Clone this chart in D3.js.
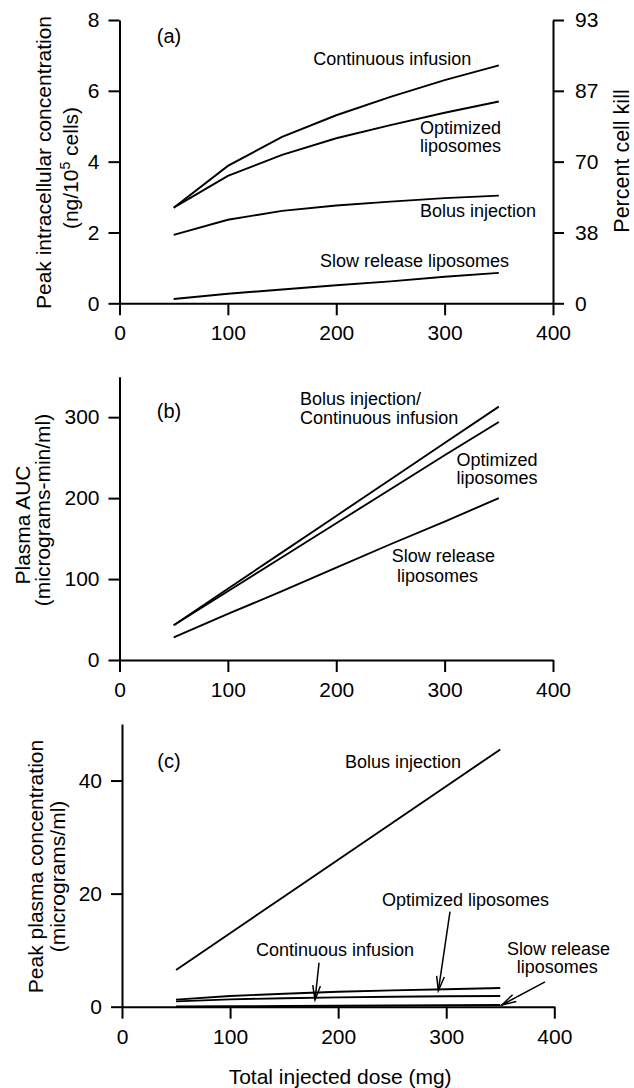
<!DOCTYPE html>
<html><head><meta charset="utf-8">
<script src="https://cdn.jsdelivr.net/npm/d3@7"></script>
<style>
html,body{margin:0;padding:0;background:#fff;}
svg{display:block;font-family:"Liberation Sans",Arial,Helvetica,sans-serif;}
</style></head><body>
<svg id="chart" width="634" height="1088"></svg>
<script>
// ---------- DATA ----------
const doses = [50, 100, 150, 200, 250, 300, 350];
const xTicks = [0, 100, 200, 300, 400];

// Panel (a): peak intracellular concentration
const aContinuous = [2.70, 3.88, 4.70, 5.31, 5.83, 6.30, 6.72];
const aOptimized  = [2.70, 3.60, 4.19, 4.66, 5.03, 5.38, 5.70];
const aBolus      = [1.93, 2.36, 2.61, 2.76, 2.87, 2.97, 3.04];
const aSlow       = [0.12, 0.27, 0.39, 0.51, 0.62, 0.75, 0.86];
const aLeftTicks  = [0, 2, 4, 6, 8];
const aRightTickLabels = ["0", "38", "70", "87", "93"];

// Panel (b): plasma AUC
const bBolusContinuous = [43, 88, 133, 178, 223, 268, 313];
const bOptimized       = [43, 85, 127, 169, 211, 253, 294];
const bSlow            = [28, 57, 85, 114, 143, 171, 200];
const bTicks = [0, 100, 200, 300];

// Panel (c): peak plasma concentration
const cBolus      = [6.5, 13.0, 19.5, 26.0, 32.5, 39.0, 45.5];
const cOptimized  = [1.25, 1.9, 2.3, 2.65, 2.88, 3.08, 3.3];
const cContinuous = [0.95, 1.3, 1.5, 1.65, 1.75, 1.85, 1.9];
const cSlow       = [0.05, 0.09, 0.13, 0.17, 0.21, 0.25, 0.3];
const cTicks = [0, 20, 40];

// ---------- DRAW ----------
const svg = d3.select('#chart');
svg.append('rect').attr('width', 634).attr('height', 1088).attr('fill', '#fff');

const LINE_W = 1.9, AXIS_W = 2;
const TICK_FS = 21, TITLE_FS = 21, NOTE_FS = 18;

function styleAxis(sel) {
  sel.attr('font-family', null).attr('font-size', null);
  sel.selectAll('path.domain').attr('stroke', '#000').attr('stroke-width', AXIS_W);
  sel.selectAll('.tick line').attr('stroke', '#000').attr('stroke-width', AXIS_W);
  sel.selectAll('.tick text').attr('fill', '#000').attr('font-size', TICK_FS);
}

function note(g, x, y, lines, dx, dy, anchor, lh) {
  const t = g.append('text').attr('font-size', NOTE_FS).attr('fill', '#000')
    .attr('text-anchor', anchor || 'start');
  lines.forEach((s, i) => {
    t.append('tspan').attr('x', x(dx[i] !== undefined ? dx[i] : dx[0]))
      .attr('y', y(dy) + i * (lh || 18)).text(s);
  });
  return t;
}

function arrow(g, x, y, tail, tip) {
  const x1 = x(tail[0]), y1 = y(tail[1]), x2 = x(tip[0]), y2 = y(tip[1]);
  g.append('line').attr('x1', x1).attr('y1', y1).attr('x2', x2).attr('y2', y2)
    .attr('stroke', '#000').attr('stroke-width', 1.5);
  const ang = Math.atan2(y2 - y1, x2 - x1);
  const L = 15, a = 0.26;
  const p = d3.path();
  p.moveTo(x2 - L * Math.cos(ang - a), y2 - L * Math.sin(ang - a));
  p.lineTo(x2, y2);
  p.lineTo(x2 - L * Math.cos(ang + a), y2 - L * Math.sin(ang + a));
  g.append('path').attr('d', p.toString()).attr('fill', 'none')
    .attr('stroke', '#000').attr('stroke-width', 1.5);
}

function panel(cfg) {
  const g = svg.append('g');
  const x = d3.scaleLinear().domain([0, 400]).range([cfg.x0, cfg.x1]);
  const y = d3.scaleLinear().domain(cfg.yDomain).range([cfg.yBot, cfg.yTop]);

  g.append('g').attr('transform', `translate(0,${cfg.yBot})`)
    .call(d3.axisBottom(x).tickValues(xTicks).tickSize(12).tickPadding(10).tickSizeOuter(0))
    .call(styleAxis);
  g.append('g').attr('transform', `translate(${cfg.x0},0)`)
    .call(d3.axisLeft(y).tickValues(cfg.yTicks).tickSize(11).tickPadding(9).tickSizeOuter(0))
    .call(styleAxis);

  const line = d3.line().x((d, i) => x(doses[i])).y(d => y(d));
  cfg.series.forEach(s => {
    g.append('path').datum(s).attr('d', line).attr('fill', 'none')
      .attr('stroke', '#000').attr('stroke-width', LINE_W);
  });
  return { g, x, y };
}

// Panel (a)
{
  const { g, x, y } = panel({
    x0: 119.5, x1: 553, yTop: 20, yBot: 303.3, yDomain: [0, 8], yTicks: aLeftTicks,
    series: [aContinuous, aOptimized, aBolus, aSlow]
  });
  g.append('g').attr('transform', 'translate(553,0)')
    .call(d3.axisRight(y).tickValues(aLeftTicks).tickSize(11).tickPadding(11).tickSizeOuter(0)
      .tickFormat((d, i) => aRightTickLabels[i]))
    .call(styleAxis);
  g.append('text').attr('x', x(45.7)).attr('y', y(7.35)).attr('text-anchor', 'middle')
    .attr('font-size', 20).text('(a)');
  note(g, x, y, ['Continuous infusion'], [178.8], 6.73);
  note(g, x, y, ['Optimized', 'liposomes'], [277.3], 4.78, 'start', 18);
  note(g, x, y, ['Bolus injection'], [277.3], 2.45);
  note(g, x, y, ['Slow release liposomes'], [185], 1.03);

  g.append('text').attr('font-size', TITLE_FS).attr('text-anchor', 'middle')
    .attr('transform', 'translate(51,162.5) rotate(-90)').text('Peak intracellular concentration');
  const t2 = g.append('text').attr('font-size', TITLE_FS).attr('text-anchor', 'middle')
    .attr('transform', 'translate(78,168) rotate(-90)');
  t2.append('tspan').text('(ng/10');
  t2.append('tspan').attr('font-size', 14).attr('dy', -8).text('5');
  t2.append('tspan').attr('dy', 8).text(' cells)');
  g.append('text').attr('font-size', 21.5).attr('text-anchor', 'middle')
    .attr('transform', 'translate(629,161) rotate(-90)').text('Percent cell kill');
}

// Panel (b)
{
  const { g, x, y } = panel({
    x0: 119.5, x1: 553, yTop: 376.7, yBot: 660, yDomain: [0, 350], yTicks: bTicks,
    series: [bBolusContinuous, bOptimized, bSlow]
  });
  g.append('text').attr('x', x(45.7)).attr('y', y(299)).attr('text-anchor', 'middle')
    .attr('font-size', 20).text('(b)');
  note(g, x, y, ['Bolus injection/', 'Continuous infusion'], [166.6], 314.5, 'start', 19);
  note(g, x, y, ['Optimized', 'liposomes'], [311], 240, 'start', 18);
  note(g, x, y, ['Slow release', 'liposomes'], [251.3, 256], 120.5, 'start', 20);

  g.append('text').attr('font-size', TITLE_FS).attr('text-anchor', 'middle')
    .attr('transform', 'translate(29.5,525) rotate(-90)').text('Plasma AUC');
  g.append('text').attr('font-size', TITLE_FS).attr('text-anchor', 'middle')
    .attr('transform', 'translate(50,510) rotate(-90)').text('(micrograms-min/ml)');
}

// Panel (c)
{
  const { g, x, y } = panel({
    x0: 122, x1: 554.3, yTop: 724, yBot: 1006.7, yDomain: [0, 50], yTicks: cTicks,
    series: [cBolus, cOptimized, cContinuous, cSlow]
  });
  g.append('text').attr('x', x(43.5)).attr('y', y(42.2)).attr('text-anchor', 'middle')
    .attr('font-size', 20).text('(c)');
  note(g, x, y, ['Bolus injection'], [206.3], 42.2);
  note(g, x, y, ['Optimized liposomes'], [240.6], 17.8);
  note(g, x, y, ['Continuous infusion'], [124], 8.97);
  note(g, x, y, ['Slow release', 'liposomes'], [356.2, 365.2], 9.2, 'start', 18);
  arrow(g, x, y, [182.3, 7.78], [178.6, 1.2]);
  arrow(g, x, y, [303.5, 16.8], [292.7, 2.83]);
  arrow(g, x, y, [391.4, 4.4], [351.3, 0.3]);

  g.append('text').attr('font-size', TITLE_FS).attr('text-anchor', 'middle')
    .attr('transform', 'translate(43,866.5) rotate(-90)').text('Peak plasma concentration');
  g.append('text').attr('font-size', TITLE_FS).attr('text-anchor', 'middle')
    .attr('transform', 'translate(65,876.5) rotate(-90)').text('(micrograms/ml)');
  g.append('text').attr('font-size', TITLE_FS).attr('text-anchor', 'middle')
    .attr('x', x(200) + 2).attr('y', 1084).text('Total injected dose (mg)');
}
</script></body></html>
